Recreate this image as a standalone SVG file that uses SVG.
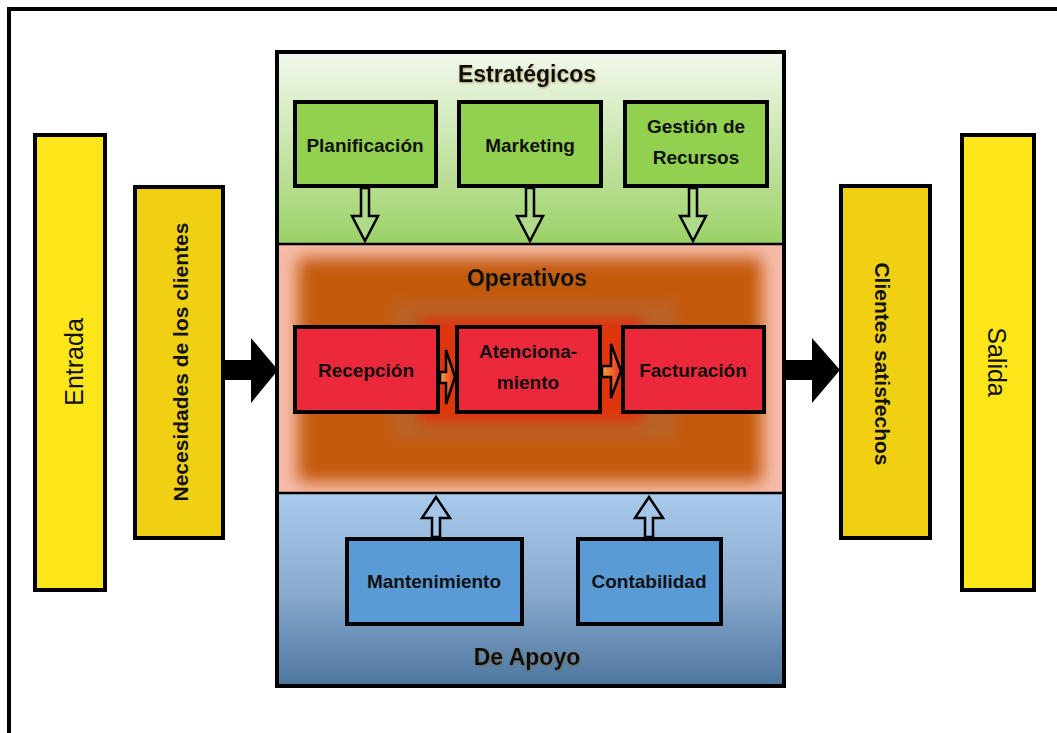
<svg xmlns="http://www.w3.org/2000/svg" width="1057" height="733" viewBox="0 0 1057 733">
<defs>
<style>
.box{stroke:#000;stroke-width:4}
.t{font-family:"Liberation Sans",Arial,sans-serif;font-weight:bold;fill:#111;text-anchor:middle}
.bt{font-size:19px}
.title{font-size:23px;filter:url(#glow)}
.hollow{stroke:#000;stroke-width:2.5;stroke-linejoin:miter}
</style>
<linearGradient id="gGreen" x1="0" y1="0" x2="0" y2="1">
<stop offset="0" stop-color="#F3F9EE"/>
<stop offset="1" stop-color="#9BD166"/>
</linearGradient>
<linearGradient id="gBlue" x1="0" y1="0" x2="0" y2="1">
<stop offset="0" stop-color="#A8CAEB"/>
<stop offset="0.5" stop-color="#8AACCF"/>
<stop offset="1" stop-color="#4D76A0"/>
</linearGradient>
<linearGradient id="gOrange" x1="0" y1="0" x2="1" y2="0">
<stop offset="0" stop-color="#F6A23A"/>
<stop offset="1" stop-color="#E83020"/>
</linearGradient>
<filter id="blur8" x="-20%" y="-20%" width="140%" height="140%"><feGaussianBlur stdDeviation="8"/></filter>
<filter id="blur6" x="-30%" y="-30%" width="160%" height="160%"><feGaussianBlur stdDeviation="6"/></filter>
<filter id="glow" x="-10%" y="-30%" width="120%" height="160%"><feDropShadow dx="0.5" dy="1" stdDeviation="1.2" flood-color="#7a5a10" flood-opacity="0.55"/></filter>
<clipPath id="clipRed"><rect x="277" y="244" width="507" height="249"/></clipPath>
</defs>

<rect width="1057" height="733" fill="#fff"/>
<rect x="9" y="9" width="1100" height="800" fill="#fff" stroke="#000" stroke-width="4"/>

<g id="entrada">
<rect class="box" x="35" y="135" width="70" height="455" fill="#FDE619"/>
<text class="t" style="font-weight:normal" font-size="25" transform="translate(83,362) rotate(-90)">Entrada</text>
</g>
<g id="necesidades">
<rect class="box" x="135" y="187" width="88" height="351" fill="#F0D012"/>
<text class="t" font-size="21" transform="translate(188,362) rotate(-90)">Necesidades de los clientes</text>
</g>

<g id="estrategicos">
<rect x="277" y="52" width="507" height="192" fill="url(#gGreen)"/>
<text class="t title" x="527" y="82">Estratégicos</text>
</g>

<g id="operativos">
<rect x="277" y="244" width="507" height="249" fill="#F5BBA9"/>
<g clip-path="url(#clipRed)">
<rect x="298" y="258" width="464" height="224" fill="#C55A11" filter="url(#blur8)"/>
<rect x="392" y="300" width="285" height="140" fill="#B5652F" opacity="0.7" filter="url(#blur6)"/>
<rect x="420" y="318" width="222" height="104" fill="#DE3410" filter="url(#blur6)"/>
</g>
<text class="t title" x="527" y="286">Operativos</text>
</g>

<g id="apoyo">
<rect x="277" y="493" width="507" height="193" fill="url(#gBlue)"/>
<text class="t title" x="527" y="665">De Apoyo</text>
</g>

<g id="column-frame">
<rect x="277" y="52" width="507" height="634" fill="none" stroke="#000" stroke-width="4"/>
<line x1="277" y1="244" x2="784" y2="244" stroke="#000" stroke-width="2.5"/>
<line x1="277" y1="493" x2="784" y2="493" stroke="#000" stroke-width="2.5"/>
</g>

<g id="planificacion">
<rect class="box" x="295" y="102" width="141" height="84" fill="#92D050"/>
<text class="t bt" x="365" y="152">Planificación</text>
</g>
<g id="marketing">
<rect class="box" x="459" y="102" width="142" height="84" fill="#92D050"/>
<text class="t bt" x="530" y="152">Marketing</text>
</g>
<g id="gestion">
<rect class="box" x="625" y="102" width="142" height="84" fill="#92D050"/>
<text class="t bt" x="696" y="133">Gestión de</text>
<text class="t bt" x="696" y="164">Recursos</text>
</g>

<g id="recepcion">
<rect class="box" x="295" y="327" width="143" height="85" fill="#EC293B"/>
<text class="t bt" x="366" y="377">Recepción</text>
</g>
<g id="atencionamiento">
<rect class="box" x="457" y="327" width="143" height="85" fill="#EC293B"/>
<text class="t bt" x="528" y="358">Atenciona-</text>
<text class="t bt" x="528" y="389">miento</text>
</g>
<g id="facturacion">
<rect class="box" x="623" y="327" width="141" height="85" fill="#EC293B"/>
<text class="t bt" x="693" y="377">Facturación</text>
</g>

<g id="mantenimiento">
<rect class="box" x="347" y="539" width="175" height="85" fill="#5B9BD5"/>
<text class="t bt" x="434" y="588">Mantenimiento</text>
</g>
<g id="contabilidad">
<rect class="box" x="578" y="539" width="143" height="85" fill="#5B9BD5"/>
<text class="t bt" x="649" y="588">Contabilidad</text>
</g>

<g id="clientes-satisfechos">
<rect class="box" x="841" y="186" width="89" height="352" fill="#F0D012"/>
<text class="t" font-size="21" transform="translate(875,364) rotate(90)">Clientes satisfechos</text>
</g>
<g id="salida">
<rect class="box" x="962" y="135" width="72" height="455" fill="#FDE619"/>
<text class="t" style="font-weight:normal" font-size="25" transform="translate(988,362) rotate(90)">Salida</text>
</g>

<g id="connectors">
<path d="M224,360 L251,360 L251,338 L278,370 L251,403 L251,380 L224,380 Z" fill="#000"/>
<path d="M786,360 L812,360 L812,338 L840,370 L812,403 L812,380 L786,380 Z" fill="#000"/>
<path class="hollow" fill="#B0DB88" d="M361,188 L369,188 L369,216 L378,216 L365,241 L352,216 L361,216 Z"/>
<path class="hollow" fill="#B0DB88" d="M526,188 L534,188 L534,216 L543,216 L530,241 L517,216 L526,216 Z"/>
<path class="hollow" fill="#B0DB88" d="M689,188 L697,188 L697,216 L706,216 L693,241 L680,216 L689,216 Z"/>
<path class="hollow" fill="#A4C6E8" d="M432,537 L440,537 L440,518 L450,518 L436,497 L422,518 L432,518 Z"/>
<path class="hollow" fill="#A4C6E8" d="M645,537 L653,537 L653,518 L663,518 L649,497 L635,518 L645,518 Z"/>
<path class="hollow" fill="url(#gOrange)" d="M440,372 L446,372 L446,350 L455,377 L446,404 L446,383 L440,383 Z"/>
<path class="hollow" fill="url(#gOrange)" d="M602,366 L611,366 L611,344 L621,371 L611,398 L611,377 L602,377 Z"/>
</g>
</svg>
